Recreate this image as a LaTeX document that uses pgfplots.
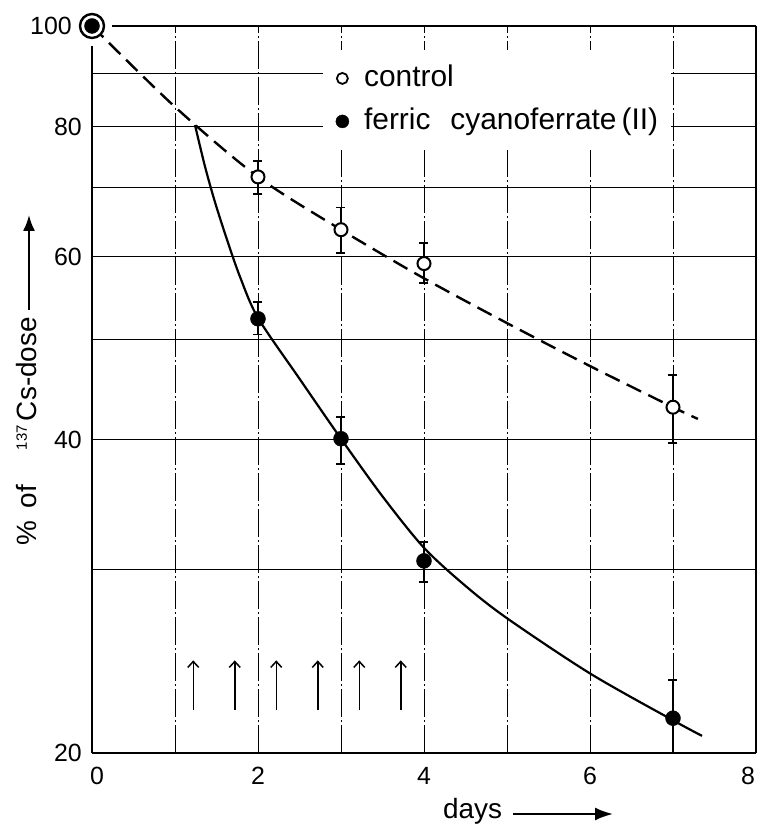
\documentclass[border=0pt]{standalone}
\usepackage{pgfplots}
\pgfplotsset{compat=1.18}
\usepackage{fontspec}
\setmainfont{Liberation Sans}
\usetikzlibrary{arrows.meta}
\begin{document}
\begin{tikzpicture}
\begin{axis}[
  at={(0,0)}, anchor=south west,
  scale only axis, width=664bp, height=727bp,
  xmin=0, xmax=8, ymin=20, ymax=100, ymode=log,
  clip=false,
  axis line style={draw=none},
  xtick={0,1,2,3,4,5,6,7,8},
  xticklabels={{\hspace{10bp}0},{},2,{},4,{},6,{},{8\rule{16bp}{0pt}}},
  ytick={20,30,40,50,60,70,80,90,100},
  yticklabels={20,{},40,{},60,{},80,{},{100\rule{10bp}{0pt}}},
  major tick length=0pt,
  tick style={draw=none},
  xmajorgrids, ymajorgrids,
  x grid style={black, line width=0.9bp, dash pattern=on 28bp off 3bp on 2bp off 3bp},
  y grid style={black, line width=1.1bp},
  ticklabel style={font=\fontsize{25}{30}\selectfont},
  yticklabel style={anchor=east, inner sep=0pt, xshift=-10bp},
  xticklabel style={anchor=north, inner sep=0pt, yshift=-14bp},
  /pgf/number format/assume math mode=true,
  legend cell align=left,
  legend style={at={(axis description cs:0.3471,0.967)}, anchor=north west,
    draw=none, fill=white, inner xsep=13bp, inner ysep=14bp,
    font=\fontsize{30}{36}\selectfont, column sep=15bp, row sep=14.5bp,
    nodes={text height=22bp, text depth=6.5bp, inner sep=0bp}},
]
% axis frame
\draw[line width=2.6bp] (axis cs:0,20) -- (axis cs:8,20);
\draw[line width=2.6bp] (axis cs:0,20) -- (axis cs:0,100) -- (axis cs:8,100);
\draw[line width=1.6bp] (axis cs:8,20) -- (axis cs:8,100);
\fill[white] (axis cs:0,100) circle[radius=20bp];

% fitted curves
\addplot[forget plot, black, line width=2.4bp, dash pattern=on 16bp off 8bp, smooth, tension=0.5]
  coordinates {(0,100) (1,83.6) (2,71.6) (3,63.7) (4,57.2) (5,51.8) (6,47.1) (7,43.0) (7.3,41.9)};
\addplot[forget plot, black, line width=2.2bp, smooth, tension=0.5]
  coordinates {(1.241,80.3) (1.361,73.3) (1.482,67.7) (1.627,62.3) (1.783,57.4) (2,52.4) (2.5,45.8) (3,40.1) (3.5,35.3) (4,31.5) (4.5,28.95) (5,26.95) (6,23.85) (7,21.5) (7.35,20.77)};

% control (open circles)
\addplot[forget plot, only marks, mark=*, mark size=6.5bp,
  mark options={fill=white, draw=black, line width=2bp},
  error bars/.cd, y dir=both, y explicit,
  error bar style={line width=1.8bp, black},
  error mark options={rotate=90, line width=1.8bp, mark size=4.5bp, black}]
  table[x=x, y=y, y error plus=ep, y error minus=em] {
x y ep em
2 71.6 2.6 2.6
3 63.7 3.2 3.2
4 59.1 2.8 2.5
7 43.0 3.2 3.3
};
\addplot[forget plot, only marks, mark=*, mark size=12bp,
  mark options={fill=white, draw=black, line width=2.4bp}]
  coordinates {(0,100)};

% ferric cyanoferrate (filled circles)
\addplot[forget plot, only marks, mark=*, mark size=7.5bp,
  mark options={fill=black, draw=black},
  error bars/.cd, y dir=both, y explicit,
  error bar style={line width=1.8bp, black},
  error mark options={rotate=90, line width=1.8bp, mark size=4.5bp, black}]
  table[x=x, y=y, y error plus=ep, y error minus=em] {
x y ep em
2 52.3 2.0 1.8
3 40.1 2.0 2.2
4 30.6 1.3 1.4
7 21.6 1.9 1.6
};
\addplot[forget plot, only marks, mark=*, mark size=7.5bp,
  mark options={fill=black, draw=black}]
  coordinates {(0,100)};

% dosing arrows
\pgfplotsinvokeforeach{1.22,1.72,2.22,2.72,3.22,3.72}{
  \draw[line width=1.5bp, -{Straight Barb[length=6bp,width=11bp,line width=1.5bp]}]
    (axis cs:#1,22.0) -- (axis cs:#1,24.55);
}

% legend
\addlegendimage{legend image code/.code={\draw[black, fill=white, line width=1.8bp] (0bp,0bp) circle[radius=5.5bp];}}
\addlegendentry{control}
\addlegendimage{legend image code/.code={\fill[black] (0bp,0bp) circle[radius=6.5bp];}}
\addlegendentry{ferric\hspace{20bp}cyanoferrate\,(II)}
\end{axis}

% axis titles
\node[rotate=90, anchor=base east, inner sep=0pt, font=\fontsize{28}{34}\selectfont]
  at (-55bp,436bp) {\%\hspace{12bp}of\hspace{35bp}\raisebox{10bp}{\fontsize{15}{18}\selectfont 137}\hspace{4bp}Cs-dose};
\draw[line width=2bp, -{Latex[length=16bp,width=12bp]}] (-63bp,443bp) -- (-63bp,538bp);
\node[anchor=base west, inner sep=0pt, font=\fontsize{28}{34}\selectfont] at (351bp,-65bp) {days};
\draw[line width=2.2bp, -{Latex[length=18bp,width=13bp]}] (421bp,-61bp) -- (521bp,-61bp);

\pgfresetboundingbox
\path (-92bp,-71bp) rectangle (665bp,753bp);
\end{tikzpicture}
\end{document}
